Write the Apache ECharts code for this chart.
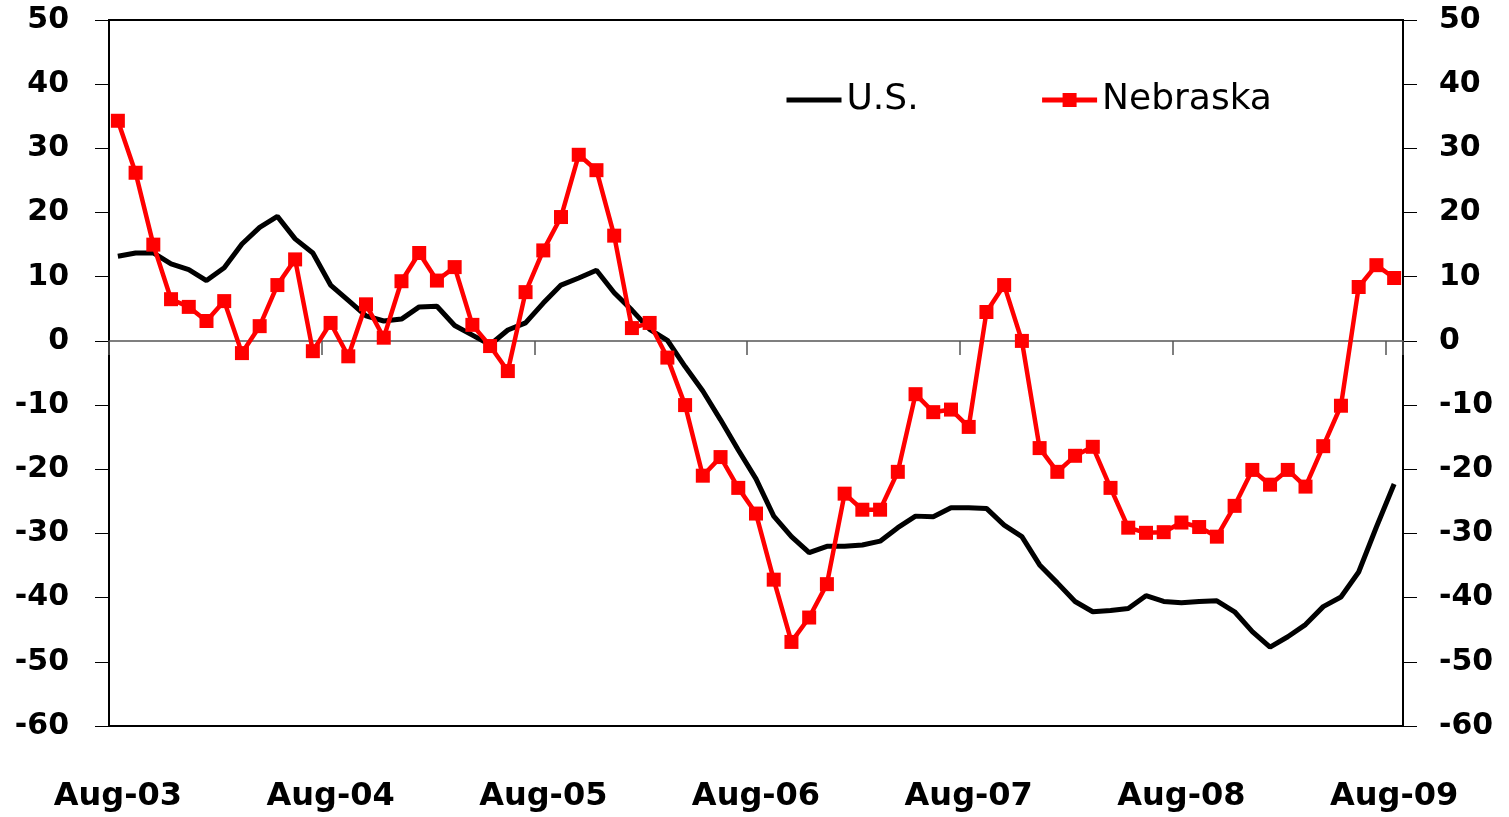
<!DOCTYPE html>
<html>
<head>
<meta charset="utf-8">
<script src="https://cdn.jsdelivr.net/npm/echarts@6/dist/echarts.min.js"></script>
<style>
html,body{margin:0;padding:0;background:#fff;}
#chart{width:1509px;height:817px;}
</style>
</head>
<body>
<div id="chart"></div>
<script>
var months = [
 'Aug-03','Sep-03','Oct-03','Nov-03','Dec-03',
 'Jan-04','Feb-04','Mar-04','Apr-04','May-04','Jun-04','Jul-04','Aug-04','Sep-04','Oct-04','Nov-04','Dec-04',
 'Jan-05','Feb-05','Mar-05','Apr-05','May-05','Jun-05','Jul-05','Aug-05','Sep-05','Oct-05','Nov-05','Dec-05',
 'Jan-06','Feb-06','Mar-06','Apr-06','May-06','Jun-06','Jul-06','Aug-06','Sep-06','Oct-06','Nov-06','Dec-06',
 'Jan-07','Feb-07','Mar-07','Apr-07','May-07','Jun-07','Jul-07','Aug-07','Sep-07','Oct-07','Nov-07','Dec-07',
 'Jan-08','Feb-08','Mar-08','Apr-08','May-08','Jun-08','Jul-08','Aug-08','Sep-08','Oct-08','Nov-08','Dec-08',
 'Jan-09','Feb-09','Mar-09','Apr-09','May-09','Jun-09','Jul-09','Aug-09'
];
var usValues = [
 13.2,13.7,13.7,12.0,11.1,9.4,11.4,15.1,17.7,19.4,
 15.9,13.7,8.7,6.3,3.9,3.1,3.4,5.3,5.4,2.4,
 0.9,-0.6,1.7,2.8,5.9,8.7,9.8,11.0,7.5,4.8,
 1.8,0.1,-4.0,-7.8,-12.3,-17.0,-21.5,-27.3,-30.5,-33.0,
 -32.0,-32.0,-31.8,-31.2,-29.1,-27.3,-27.4,-26.0,-26.0,-26.1,
 -28.7,-30.5,-34.9,-37.7,-40.6,-42.2,-42.0,-41.7,-39.7,-40.6,
 -40.8,-40.6,-40.5,-42.2,-45.3,-47.7,-46.1,-44.2,-41.4,-39.9,
 -36.0,-29.0,-22.3
];
var nebraskaValues = [
 34.3,26.2,15.0,6.5,5.3,3.1,6.2,-1.9,2.3,8.7,
 12.7,-1.6,2.8,-2.4,5.7,0.5,9.3,13.7,9.4,11.5,
 2.5,-0.8,-4.7,7.6,14.1,19.3,29.0,26.6,16.4,2.0,
 2.8,-2.6,-10.0,-21.0,-18.1,-22.9,-26.9,-37.2,-46.9,-43.1,
 -37.9,-23.8,-26.3,-26.3,-20.4,-8.3,-11.1,-10.7,-13.4,4.5,
 8.7,0.0,-16.7,-20.4,-17.9,-16.5,-22.9,-29.1,-29.9,-29.8,
 -28.3,-29.0,-30.5,-25.7,-20.1,-22.4,-20.1,-22.7,-16.4,-10.1,
 8.4,11.8,9.8
];
var seriesNames = ['U.S.', 'Nebraska'];
var yMin = -60, yMax = 50, yStep = 10;

var chart = echarts.init(document.getElementById('chart'), null, {renderer: 'canvas'});
var yLabelStyle = {fontFamily: 'DejaVu Sans', fontWeight: 'bold', fontSize: 30, color: '#000'};
var option = {
  animation: false,
  backgroundColor: '#fff',
  grid: {left: 109, right: 106, top: 20, bottom: 91, show: true, borderColor: '#000', borderWidth: 2, backgroundColor: 'transparent'},
  legend: {
    left: 779, top: 77,
    itemWidth: 55, itemHeight: 17.5, itemGap: 121,
    textStyle: {fontFamily: 'DejaVu Sans', fontSize: 36, color: '#000'},
    lineStyle: {width: 5},
    data: [
      {name: seriesNames[0], itemStyle: {opacity: 0, borderWidth: 0}},
      {name: seriesNames[1], itemStyle: {borderWidth: 0}}
    ]
  },
  xAxis: [
    {
      type: 'category', data: months, boundaryGap: true, position: 'bottom',
      axisLine: {onZero: true, lineStyle: {color: '#555', width: 1.5}},
      axisTick: {show: true, interval: 11, length: 14, alignWithLabel: false, lineStyle: {color: '#555', width: 1.5}},
      axisLabel: {show: false},
      splitLine: {show: false}
    },
    {
      type: 'category', data: months, boundaryGap: true, position: 'bottom',
      axisLine: {show: false, onZero: false},
      axisTick: {show: false},
      axisLabel: {show: true, interval: 11, margin: 55, fontFamily: 'DejaVu Sans', fontWeight: 'bold', fontSize: 32, color: '#000'},
      splitLine: {show: false}
    }
  ],
  yAxis: [
    {
      type: 'value', min: yMin, max: yMax, interval: yStep, position: 'left',
      axisLine: {show: true, lineStyle: {color: '#000', width: 2}},
      axisTick: {show: true, inside: false, length: 14, lineStyle: {color: '#000', width: 1}},
      axisLabel: Object.assign({margin: 40}, yLabelStyle),
      splitLine: {show: false}
    },
    {
      type: 'value', min: yMin, max: yMax, interval: yStep, position: 'right',
      axisLine: {show: true, lineStyle: {color: '#000', width: 2}},
      axisTick: {show: true, inside: false, length: 14, lineStyle: {color: '#000', width: 1}},
      axisLabel: Object.assign({margin: 36}, yLabelStyle),
      splitLine: {show: false}
    }
  ],
  series: [
    {
      name: seriesNames[0], type: 'line', data: usValues, xAxisIndex: 0, yAxisIndex: 0,
      symbol: 'none', showSymbol: false,
      lineStyle: {color: '#000', width: 5}, itemStyle: {color: '#000'}, z: 2
    },
    {
      name: seriesNames[1], type: 'line', data: nebraskaValues, xAxisIndex: 0, yAxisIndex: 0,
      symbol: 'rect', symbolSize: 14, showSymbol: true, showAllSymbol: true,
      lineStyle: {color: '#ff0000', width: 4.5}, itemStyle: {color: '#ff0000'}, z: 3
    }
  ]
};
chart.setOption(option);
</script>
</body>
</html>
